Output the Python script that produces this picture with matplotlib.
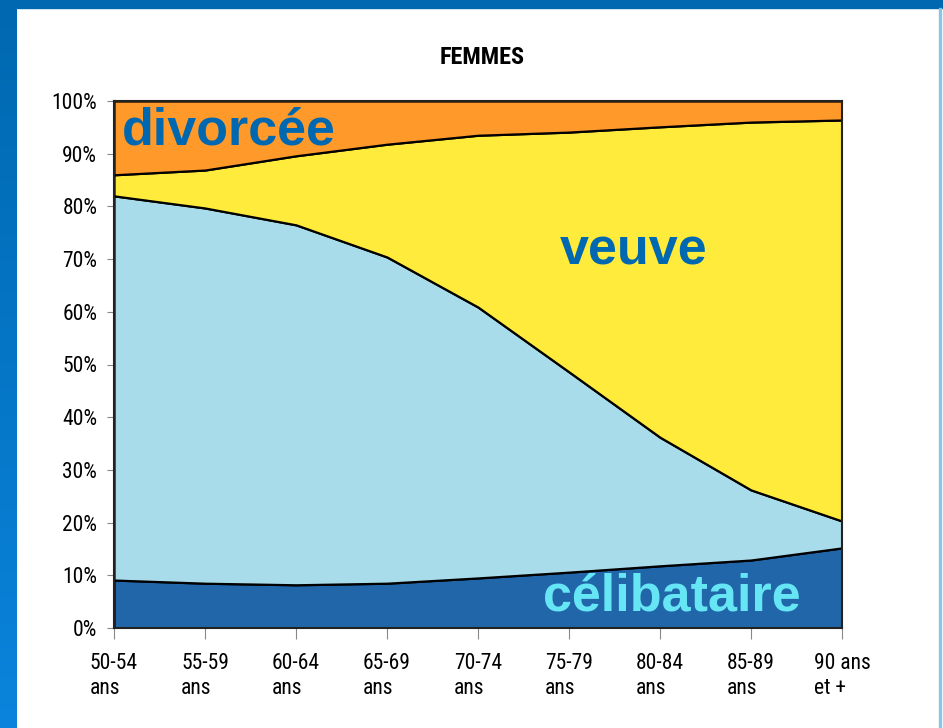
import numpy as np
import matplotlib.pyplot as plt
from matplotlib.colors import LinearSegmentedColormap
from matplotlib.patches import Rectangle

ages = ["50-54\nans", "55-59\nans", "60-64\nans", "65-69\nans", "70-74\nans",
        "75-79\nans", "80-84\nans", "85-89\nans", "90 ans\net +"]

# parts en %
celibataire = [9.1, 8.5, 8.2, 8.5, 9.5, 10.6, 11.8, 12.9, 15.2]
mariee = [72.9, 71.2, 68.3, 61.9, 51.4, 38.0, 24.4, 13.3, 5.1]
veuve = [4.0, 7.2, 13.1, 21.4, 32.6, 45.5, 58.9, 69.8, 76.1]
divorcee = [14.0, 13.1, 10.4, 8.2, 6.5, 5.9, 4.9, 4.0, 3.6]

colors = ["#2266aa", "#a8dcea", "#ffeb3b", "#ff9a2a"]
narrow = ["Roboto Condensed", "Liberation Sans Narrow", "Roboto"]

fig = plt.figure(figsize=(9.43, 7.28), dpi=100)
fig.patch.set_facecolor("white")

# cadre bleu
grad = np.linspace(0, 1, 256).reshape(-1, 1)
left_ax = fig.add_axes([0, 0, 17 / 943, 1])
left_ax.imshow(grad, aspect="auto", extent=[0, 1, 0, 1], origin="lower",
               cmap=LinearSegmentedColormap.from_list("b", ["#0a84dc", "#0068b0"]))
left_ax.axis("off")
fig.patches.append(Rectangle((0, 1 - 8 / 728), 1, 8 / 728, transform=fig.transFigure,
                             color="#0068b0", zorder=5))
fig.patches.append(Rectangle((939 / 943, 0), 1.5 / 943, 1 - 8 / 728, transform=fig.transFigure,
                             color="#8cc4e8", zorder=5))

ax = fig.add_axes([114 / 943, 100 / 728, 728 / 943, 527 / 728])
x = np.arange(len(ages))
ax.stackplot(x, celibataire, mariee, veuve, divorcee, colors=colors,
             edgecolor="black", linewidth=1.6)
ax.set_xlim(0, len(ages) - 1)
ax.set_ylim(0, 100)

ax.set_yticks(range(0, 101, 10))
ax.set_yticklabels([f"{v}%" for v in range(0, 101, 10)], family=narrow,
                   fontsize=15.5, stretch="condensed")
ax.set_xticks(x)
ax.set_xticklabels(ages, family=narrow, fontsize=15.5, linespacing=1.25,
                   multialignment="left", stretch="condensed")
ax.tick_params(axis="x", length=8, color="#888888", pad=10)
ax.tick_params(axis="y", length=5, color="#888888", pad=7)
for s in ax.spines.values():
    s.set_color("#222222")
    s.set_linewidth(1.5)

fig.text(482 / 943, 1 - 58 / 728, "FEMMES", ha="center", va="center",
         family=narrow, fontsize=17.5, fontweight="bold", stretch="condensed")

lab = dict(family=["Liberation Sans", "DejaVu Sans"], fontweight="bold",
           fontsize=37.5, va="baseline", ha="left", transform=ax.transAxes)
ax.text(0.011, 0.918, "divorcée", color="#0068b0", **lab)
ax.text(0.6126, 0.6907, "veuve", color="#0068b0", **lab)
ax.text(0.589, 0.034, "célibataire", color="#66e6f5", **lab)

fig.savefig("out.png", dpi=100)
